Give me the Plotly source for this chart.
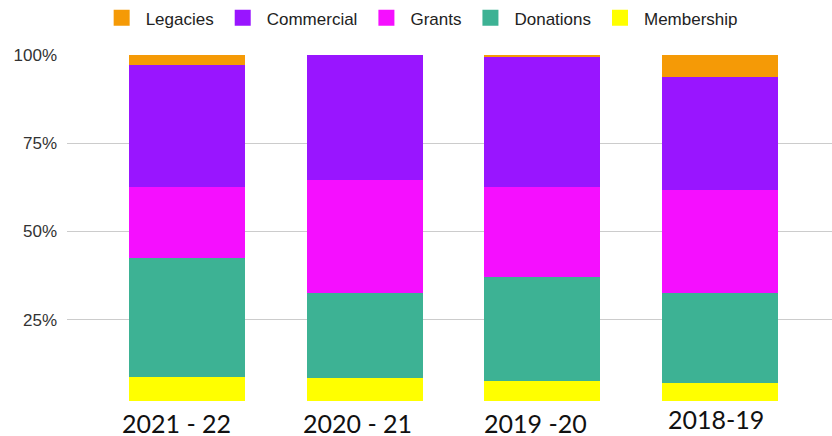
import plotly.graph_objects as go

categories = ["2021 - 22", "2020 - 21", "2019 -20", "2018-19"]
membership = [8.9, 8.4, 7.6, 7.2]
donations = [33.7, 24.3, 29.4, 25.5]
grants = [20.0, 32.0, 25.6, 29.0]
commercial = [34.6, 35.3, 36.7, 32.0]
legacies = [2.8, 0.0, 0.7, 6.3]

series_names = ["Membership", "Donations", "Grants", "Commercial", "Legacies"]
series_values = [membership, donations, grants, commercial, legacies]
colors = {
    "Legacies": "#f59a06",
    "Commercial": "#9915ff",
    "Grants": "#f50fff",
    "Donations": "#3db294",
    "Membership": "#ffff00",
}
legend_order = ["Legacies", "Commercial", "Grants", "Donations", "Membership"]
tick_vals = [0, 25, 50, 75, 100]
tick_text = ["0%", "25%", "50%", "75%", "100%"]

fig = go.Figure()
for name, vals in zip(series_names, series_values):
    fig.add_trace(go.Bar(
        x=categories, y=vals, name=name,
        marker=dict(color=colors[name], line=dict(width=0)),
        showlegend=False, legendgroup=name,
    ))

# legend proxies (larger square swatches)
for name in legend_order:
    fig.add_trace(go.Scatter(
        x=[None], y=[None], mode="markers", name=name, legendgroup=name,
        marker=dict(symbol="square", size=18, color=colors[name]),
    ))

label_shift = [-10, -7, -7, -4]
label_y = [-0.043, -0.043, -0.043, -0.032]
for cat, dx, yy in zip(categories, label_shift, label_y):
    fig.add_annotation(
        x=cat, xref="x", y=yy, yref="paper", text=cat, showarrow=False,
        xshift=dx, yanchor="middle", xanchor="center",
        font=dict(family="Lato", size=25, color="#111111"),
    )

fig.add_shape(
    type="rect", xref="paper", yref="paper", x0=-0.2, x1=1.1, y0=-0.2, y1=0.02,
    fillcolor="white", line=dict(width=0), layer="above",
)

fig.update_layout(
    width=832, height=436,
    margin=dict(l=67, r=0, t=55, b=28),
    barmode="stack", bargap=0.347,
    plot_bgcolor="white", paper_bgcolor="white",
    font=dict(family="Liberation Sans, Arial", size=17, color="#444444"),
    legend=dict(
        orientation="h", xref="container", yref="container",
        x=0.505, xanchor="center", y=0.958, yanchor="middle",
        font=dict(family="Liberation Sans, Arial", size=17, color="#222222"),
        itemclick=False, itemwidth=38,
    ),
    xaxis=dict(
        range=[-0.675, 3.63], showticklabels=False, showgrid=False,
        zeroline=False, showline=False, fixedrange=True,
    ),
    yaxis=dict(
        range=[0, 100], tickvals=tick_vals, ticktext=tick_text,
        showgrid=True, gridcolor="#cccccc", gridwidth=1, zeroline=False,
        showline=False, ticklabelstandoff=9, fixedrange=True,
        tickfont=dict(family="Liberation Sans, Arial", size=17, color="#333333"),
    ),
)

fig.write_html("out.html")
